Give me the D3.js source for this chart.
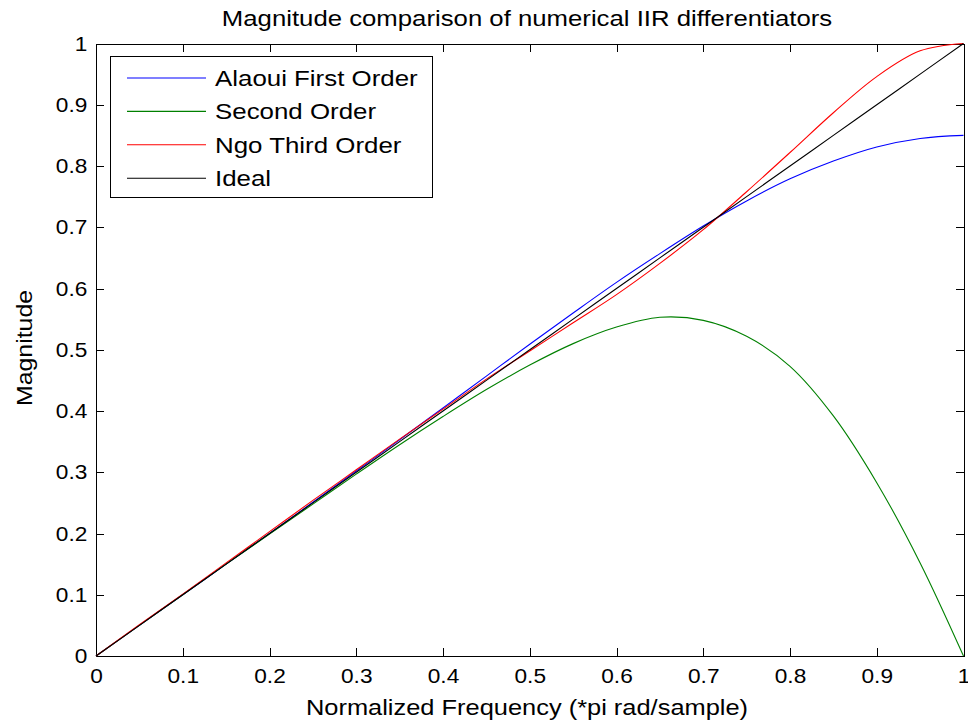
<!DOCTYPE html>
<html>
<head>
    <title>Magnitude comparison</title>
    <script src="https://cdn.jsdelivr.net/npm/d3@7"></script>
    <style>
        body { margin: 0; background: #fff; }
        svg { display: block; }
        text { font-family: "Liberation Sans", Arial, sans-serif; fill: #000; }
        .axis path, .axis line { stroke: #000; stroke-width: 1px; shape-rendering: crispEdges; }
        .series { fill: none; stroke-width: 1.1px; }
    </style>
</head>
<body>
<svg width="968" height="722"></svg>
<script>
    // values
    const freq    = [0, 0.05, 0.1, 0.15, 0.2, 0.25, 0.3, 0.35, 0.4, 0.45, 0.5, 0.55, 0.6, 0.65, 0.7, 0.75, 0.8, 0.85, 0.9, 0.95, 1];
    const alaoui  = [0, 0.050, 0.100, 0.150, 0.200, 0.251, 0.302, 0.353, 0.405, 0.457, 0.509, 0.560, 0.610, 0.657, 0.702, 0.743, 0.779, 0.808, 0.831, 0.845, 0.850];
    const second  = [0, 0.050, 0.100, 0.150, 0.199, 0.248, 0.297, 0.345, 0.391, 0.435, 0.475, 0.510, 0.537, 0.553, 0.548, 0.522, 0.473, 0.392, 0.283, 0.152, 0];
    const ngo     = [0, 0.051, 0.101, 0.152, 0.203, 0.254, 0.304, 0.354, 0.403, 0.452, 0.498, 0.544, 0.590, 0.641, 0.696, 0.758, 0.822, 0.887, 0.946, 0.988, 1.0];
    const ideal   = [0, 0.05, 0.1, 0.15, 0.2, 0.25, 0.3, 0.35, 0.4, 0.45, 0.5, 0.55, 0.6, 0.65, 0.7, 0.75, 0.8, 0.85, 0.9, 0.95, 1];

    const seriesNames  = ["Alaoui First Order", "Second Order", "Ngo Third Order", "Ideal"];
    const seriesColors = ["#0000ff", "#008000", "#ff0000", "#000000"];
    const seriesValues = [alaoui, second, ngo, ideal];

    const xTicks = [0, 0.1, 0.2, 0.3, 0.4, 0.5, 0.6, 0.7, 0.8, 0.9, 1];
    const yTicks = [0, 0.1, 0.2, 0.3, 0.4, 0.5, 0.6, 0.7, 0.8, 0.9, 1];

    const chartTitle = "Magnitude comparison of numerical IIR differentiators";
    const xTitle = "Normalized Frequency (*pi rad/sample)";
    const yTitle = "Magnitude";

    const svg = d3.select("svg");
    const plotLeft = 96, plotRight = 963.5, plotTop = 43.5, plotBottom = 656;
    const sx = 1.13; // the reference font runs wider than Arial

    const x = d3.scaleLinear().domain([0, 1]).range([plotLeft, plotRight]);
    const y = d3.scaleLinear().domain([0, 1]).range([plotBottom, plotTop]);
    const fmt = d => d === 0 ? "0" : d === 1 ? "1" : String(+d.toFixed(1));

    // axes, ticks pointing inward on all four sides
    const gx = svg.append("g").attr("class", "axis").attr("transform", `translate(0,${plotBottom})`)
        .call(d3.axisBottom(x).tickValues(xTicks).tickFormat(fmt).tickSizeInner(-8).tickSizeOuter(0).tickPadding(12));
    const gy = svg.append("g").attr("class", "axis").attr("transform", `translate(${plotLeft},0)`)
        .call(d3.axisLeft(y).tickValues(yTicks).tickFormat(fmt).tickSizeInner(-8).tickSizeOuter(0).tickPadding(8));
    svg.append("g").attr("class", "axis").attr("transform", `translate(0,${plotTop})`)
        .call(d3.axisTop(x).tickValues(xTicks).tickFormat("").tickSizeInner(-8).tickSizeOuter(0));
    svg.append("g").attr("class", "axis").attr("transform", `translate(${plotRight},0)`)
        .call(d3.axisRight(y).tickValues(yTicks).tickFormat("").tickSizeInner(-8).tickSizeOuter(0));

    [gx, gy].forEach(g => g.selectAll("text")
        .attr("font-size", 21)
        .attr("font-family", "Liberation Sans, Arial, sans-serif")
        .attr("transform", "scale(1.08,1)"));

    // curves
    const line = d3.line()
        .x((d, i) => x(freq[i]))
        .y(d => y(d))
        .curve(d3.curveCatmullRom.alpha(0.5));

    svg.append("g").selectAll("path")
        .data(seriesValues)
        .join("path")
        .attr("class", "series")
        .attr("stroke", (d, i) => seriesColors[i])
        .attr("d", line);

    // title and axis labels
    svg.append("text")
        .attr("transform", "translate(527,26) scale(1.17,1)")
        .attr("text-anchor", "middle")
        .attr("font-size", 22)
        .text(chartTitle);
    svg.append("text")
        .attr("transform", `translate(527,715) scale(${sx},1)`)
        .attr("text-anchor", "middle")
        .attr("font-size", 22.5)
        .text(xTitle);
    svg.append("text")
        .attr("transform", `translate(32,348) rotate(-90) scale(${sx},1)`)
        .attr("text-anchor", "middle")
        .attr("font-size", 22)
        .text(yTitle);

    // legend
    const legend = svg.append("g");
    legend.append("rect")
        .attr("x", 110).attr("y", 56).attr("width", 322).attr("height", 141)
        .attr("fill", "#fff").attr("stroke", "#000").attr("stroke-width", 1)
        .attr("shape-rendering", "crispEdges");
    const rows = legend.selectAll("g.row")
        .data(seriesNames)
        .join("g")
        .attr("class", "row")
        .attr("transform", (d, i) => `translate(0,${78 + i * 33.4})`);
    rows.append("line")
        .attr("x1", 127).attr("x2", 206)
        .attr("stroke", (d, i) => seriesColors[i])
        .attr("stroke-width", 1.1);
    rows.append("text")
        .attr("transform", "translate(215,8) scale(1.15,1)")
        .attr("font-size", 22.5)
        .text(d => d);
</script>
</body>
</html>
